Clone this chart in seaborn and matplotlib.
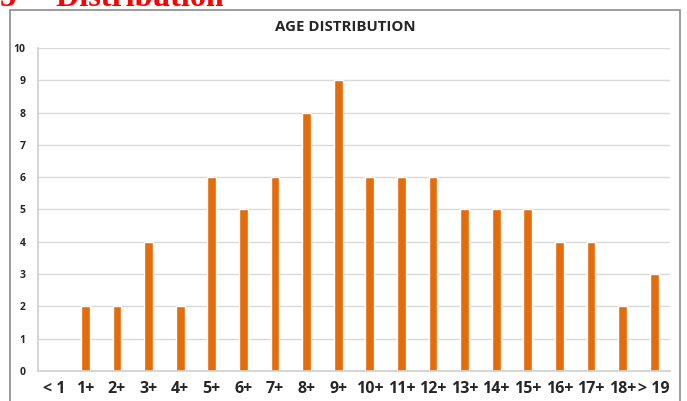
import matplotlib
matplotlib.use("Agg")
import matplotlib.pyplot as plt
import seaborn as sns
import pandas as pd
from matplotlib.patches import Rectangle

# data
age_groups = ["< 1", "1+", "2+", "3+", "4+", "5+", "6+", "7+", "8+", "9+",
              "10+", "11+", "12+", "13+", "14+", "15+", "16+", "17+", "18+", "> 19"]
counts = [0, 2, 2, 4, 2, 6, 5, 6, 8, 9, 6, 6, 6, 5, 5, 5, 4, 4, 2, 3]
y_ticks = list(range(0, 11))

df = pd.DataFrame({"age": age_groups, "count": counts})

sns.set_theme(style="white")
plt.rcParams["font.family"] = ["Open Sans", "DejaVu Sans"]

W, H = 687, 401
fig = plt.figure(figsize=(W / 100, H / 100), dpi=100)

# outer chart frame
fig.patches.append(Rectangle((10 / W, -0.1), 670 / W, 1.1 - 10 / H,
                             transform=fig.transFigure, fill=False,
                             edgecolor="#8c8c8c", linewidth=1.2))

# red heading, cut off at the top as in the source
fig.text(0 / W, 1 - 6 / H, "3     Distribution", color="#ff0000",
         fontsize=23, fontweight="bold", family="Liberation Serif",
         ha="left", va="baseline")

ax = fig.add_axes([38 / W, 1 - 371 / H, 632 / W, 323 / H])
sns.barplot(data=df, x="age", y="count", color="#e46c0a", saturation=1,
            width=0.28, ax=ax)

ax.set_ylim(0, 10)
ax.set_xlim(-0.5, len(age_groups) - 0.5)
ax.set_yticks(y_ticks)
ax.set_yticklabels([str(t) for t in y_ticks], fontsize=7.5, fontweight="bold")
ax.tick_params(axis="x", labelsize=11.5, pad=7, length=0)
ax.tick_params(axis="y", pad=9, length=0)
for lab in ax.get_xticklabels():
    lab.set_fontweight("bold")
ax.yaxis.grid(True, color="#d9d9d9", linewidth=1)
ax.set_axisbelow(True)
ax.set_xlabel("")
ax.set_ylabel("")
for side in ["top", "right"]:
    ax.spines[side].set_visible(False)
ax.spines["left"].set_color("#d0d0d0")
ax.spines["bottom"].set_color("#d0d0d0")

fig.text(345 / W, 1 - 27 / H, "AGE DISTRIBUTION", fontsize=10.8,
         fontweight="bold", ha="center", va="center")

fig.savefig("out.png", dpi=100)
